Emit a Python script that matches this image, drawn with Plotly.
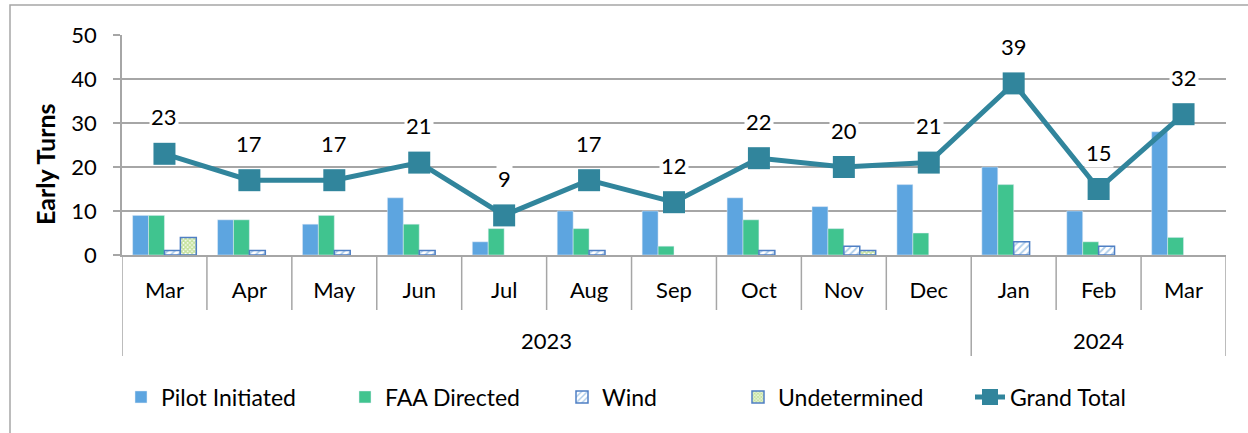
import plotly.graph_objects as go

years = ["2023"] * 10 + ["2024"] * 3
months = ["Mar", "Apr", "May", "Jun", "Jul", "Aug", "Sep", "Oct", "Nov", "Dec", "Jan", "Feb", "Mar"]
pilot = [9, 8, 7, 13, 3, 10, 10, 13, 11, 16, 20, 10, 28]
faa = [9, 8, 9, 7, 6, 6, 2, 8, 6, 5, 16, 3, 4]
wind = [1, 1, 1, 1, None, 1, None, 1, 2, None, 3, 2, None]
undetermined = [4, None, None, None, None, None, None, None, 1, None, None, None, None]
grand_total = [23, 17, 17, 21, 9, 17, 12, 22, 20, 21, 39, 15, 32]
year_labels = ["2023", "2024"]

FONT = "Lato"
GRID = "#A6A6A6"
W, H = 1248, 433
ML, MR, MT, MB = 122, 22, 35, 178
PLOT_W = W - ML - MR
PLOT_H = H - MT - MB
keys = [f"{y}-{m}" for y, m in zip(years, months)]

fig = go.Figure()
fig.add_trace(go.Bar(x=keys, y=pilot, name="Pilot Initiated", marker_color="#5DA5E0", legend="legend"))
fig.add_trace(go.Bar(x=keys, y=faa, name="FAA Directed", marker_color="#40C48F", legend="legend2"))
fig.add_trace(go.Bar(x=keys, y=wind, name="Wind", legend="legend3",
                     marker=dict(color="white", line=dict(color="#4F7FC4", width=1.5),
                                 pattern=dict(shape="/", fgcolor="#5B9BD5", bgcolor="white",
                                              size=5, solidity=0.35))))
fig.add_trace(go.Bar(x=keys, y=undetermined, name="Undetermined", legend="legend4",
                     marker=dict(color="white", line=dict(color="#4F7FC4", width=1.5),
                                 pattern=dict(shape="x", fgcolor="#8CC63F", bgcolor="white",
                                              size=3, solidity=0.75))))
fig.add_trace(go.Scatter(x=keys, y=grand_total, name="Grand Total", mode="lines+markers",
                         legend="legend5",
                         line=dict(color="#31859C", width=5),
                         marker=dict(symbol="square", size=22, color="#31859C")))

for k, v in zip(keys, grand_total):
    fig.add_annotation(x=k, y=v, text=str(v), showarrow=False, yshift=37,
                       font=dict(family=FONT, size=22, color="black"),
                       bgcolor="white", borderpad=1)

# category axis boxes: short ticks between months, long dividers at year boundaries
short_y = -55 / PLOT_H
long_y = -101 / PLOT_H
n = len(keys)
bounds = [i - 0.5 for i in range(n + 1)]
year_edges = [-0.5] + [i - 0.5 for i in range(1, n) if years[i] != years[i - 1]] + [n - 0.5]
for b in bounds:
    fig.add_shape(type="line", xref="x", yref="paper", x0=b, x1=b, y0=0,
                  y1=long_y if b in year_edges else short_y,
                  line=dict(color=GRID, width=1.5))
for yl in year_labels:
    idx = [i for i, y in enumerate(years) if y == yl]
    fig.add_annotation(x=(idx[0] + idx[-1]) / 2, xref="x", y=-85 / PLOT_H, yref="paper",
                       text=yl, showarrow=False, yanchor="middle",
                       font=dict(family=FONT, size=22, color="black"))

# y-axis title
fig.add_annotation(x=(45 - ML) / PLOT_W, xref="paper", y=(255 - 164) / PLOT_H, yref="paper",
                   text="<b>Early Turns</b>", textangle=-90, showarrow=False,
                   xanchor="center", yanchor="middle",
                   font=dict(family=FONT, size=25, color="black"))

fig.add_shape(type="rect", xref="paper", yref="paper", x0=-112 / PLOT_W, x1=1.03,
              y0=-0.9, y1=250 / PLOT_H, line=dict(color="#A6A6A6", width=1.5), layer="below")

legend_px = [121, 345, 562, 738, 970]
legends = {}
for i, px in enumerate(legend_px):
    name = "legend" if i == 0 else f"legend{i + 1}"
    legends[name] = dict(orientation="h", x=(px - ML) / PLOT_W, xanchor="left",
                         y=-142 / PLOT_H, yanchor="middle", bgcolor="rgba(0,0,0,0)",
                         font=dict(family=FONT, size=23, color="black"))

fig.update_layout(
    width=W, height=H,
    margin=dict(l=ML, r=MR, t=MT, b=MB),
    paper_bgcolor="white", plot_bgcolor="white",
    barmode="group", bargap=0.25, bargroupgap=0,
    font=dict(family=FONT, size=22, color="black"),
    showlegend=True,
    **legends,
)
fig.update_yaxes(range=[0, 50], dtick=10, showgrid=True, gridcolor=GRID, gridwidth=1.5,
                 showline=True, linecolor=GRID, linewidth=1.5, ticks="outside", ticklen=7,
                 tickcolor=GRID, tickwidth=1.5, tickfont=dict(family=FONT, size=22),
                 ticklabelstandoff=12, zeroline=False)
fig.update_xaxes(type="category", range=[-0.5, n - 0.5], tickvals=keys, ticktext=months,
                 showline=True, linecolor=GRID, linewidth=1.5, ticks="",
                 ticklabelstandoff=15, tickfont=dict(family=FONT, size=22), showgrid=False)

fig.write_html("out.html", config={"displayModeBar": False},
               post_script="document.body.style.margin='0px';")
